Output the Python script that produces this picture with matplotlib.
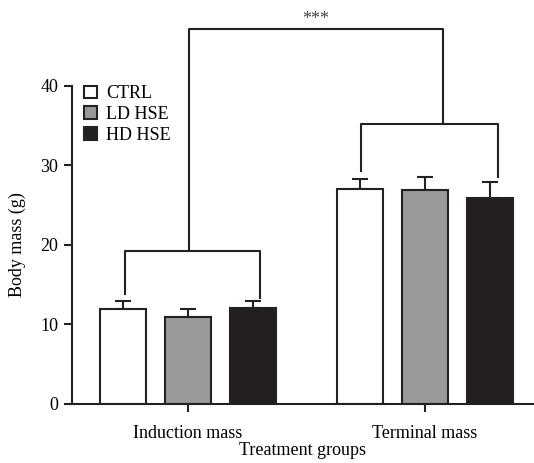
import numpy as np
import matplotlib.pyplot as plt

plt.rcParams['font.family'] = ['Liberation Serif', 'DejaVu Serif']

groups = ['Induction mass', 'Terminal mass']
series = ['CTRL', 'LD HSE', 'HD HSE']
means = {
    'CTRL': [12.0, 27.0],
    'LD HSE': [11.0, 26.9],
    'HD HSE': [12.1, 25.9],
}
errs = {
    'CTRL': [0.95, 1.3],
    'LD HSE': [1.0, 1.65],
    'HD HSE': [0.9, 2.0],
}
colors = {'CTRL': 'white', 'LD HSE': '#999999', 'HD HSE': '#231f20'}
edge = '#222222'

# bracket heights (data units)
ind_bracket = [13.8, 19.3, 13.3]
term_bracket = [29.3, 35.2, 28.5]
top_bracket = 47.1

fig = plt.figure(figsize=(5.34, 4.63), dpi=100)
ax = fig.add_axes([71.5 / 534, 59 / 463, (534 - 71.5) / 534, 404 / 463])

x = np.arange(len(groups))
offset = 0.274
width = 0.194
for i, s in enumerate(series):
    pos = x + (i - 1) * offset
    ax.bar(pos, means[s], width, color=colors[s], edgecolor=edge, linewidth=1.5,
           label=s, zorder=2)
    ax.errorbar(pos, means[s], yerr=[np.zeros(len(groups)), errs[s]], fmt='none',
                ecolor=edge, elinewidth=1.5, capsize=5.5, capthick=1.5, zorder=1)

lw = 1.5
# induction bracket
l, c, r = -0.267, 0.004, 0.304
ax.plot([l, l, r, r], [ind_bracket[0], ind_bracket[1], ind_bracket[1], ind_bracket[2]],
        color=edge, lw=lw)
# terminal bracket
l2, c2, r2 = 0.73, 1.075, 1.307
ax.plot([l2, l2, r2, r2], [term_bracket[0], term_bracket[1], term_bracket[1], term_bracket[2]],
        color=edge, lw=lw)
# top bracket
ax.plot([c, c, c2, c2], [ind_bracket[1], top_bracket, top_bracket, term_bracket[1]],
        color=edge, lw=lw)
ax.text((c + c2) / 2, 48.3, '***', ha='center', va='center',
        fontsize=13, color='#444444')

ax.set_xlim(-0.4916, 1.46)
ax.set_ylim(0, 50.8)
ax.spines['top'].set_visible(False)
ax.spines['right'].set_visible(False)
ax.spines['left'].set_bounds(0, 40)
for sp in ['left', 'bottom']:
    ax.spines[sp].set_linewidth(1.5)
    ax.spines[sp].set_color(edge)
ax.set_yticks([0, 10, 20, 30, 40])
ax.set_xticks(x)
ax.set_xticklabels(groups)
ax.tick_params(axis='both', width=1.5, length=6, color=edge, labelsize=13)
ax.tick_params(axis='x', pad=9)
ax.set_ylabel('Body mass (g)', fontsize=13)
ax.yaxis.set_label_coords(-0.098, 20 / 50.8)
ax.set_xlabel('Treatment groups', fontsize=13, labelpad=0)

leg = ax.legend(loc='upper left', bbox_to_anchor=(0.0, 0.82), frameon=False,
                fontsize=13, handlelength=0.7, handleheight=0.7,
                handletextpad=0.5, labelspacing=0.2, borderaxespad=0.3)

fig.savefig('out.png', dpi=100)
